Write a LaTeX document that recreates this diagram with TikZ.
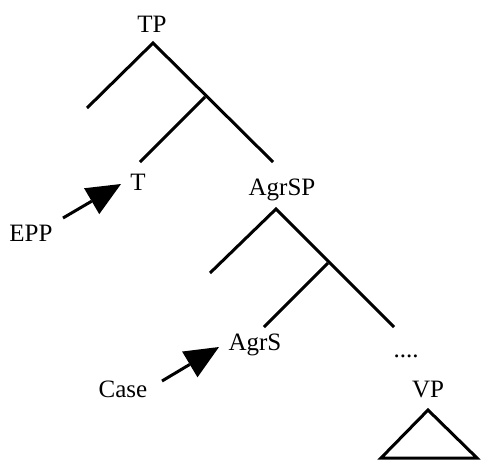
\documentclass[tikz,border=0pt]{standalone}
\usepackage{fontspec}
\setmainfont{Liberation Serif}
\usetikzlibrary{arrows.meta}
\begin{document}
\begin{tikzpicture}[x=1pt,y=-1pt,line width=3pt,
    lbl/.style={anchor=base,inner sep=0pt,font=\fontsize{25}{30}\selectfont},
    feat/.style={-{Triangle[length=34pt 0,width=30pt 0,line width=0pt]},line width=3pt}]
            \useasboundingbox (0,0) rectangle (481,461);
            % upper tree
            \node[lbl] (tp) at (152,32) {TP};
            \coordinate (tpTop) at (153,43);
            \coordinate (tpL) at (87,108);
            \coordinate (tpBar) at (205,97);
            \coordinate (tpBL) at (140,162);
            \coordinate (tpBR) at (273,162);
            \draw (tpL) -- (tpTop) -- (tpBR);
            \draw (tpBar) -- (tpBL);
            \node[lbl] (t) at (138,190) {T};
            \node[lbl] (agrsp) at (282,195) {AgrSP};
            % lower tree
            \coordinate (aTop) at (276,209);
            \coordinate (aL) at (210,273);
            \coordinate (aBar) at (328,263);
            \coordinate (aBL) at (264,327);
            \coordinate (aBR) at (394,327);
            \draw (aL) -- (aTop) -- (aBR);
            \draw (aBar) -- (aBL);
            \node[lbl] (agrs) at (255,350) {AgrS};
            \node[lbl] (dots) at (406,357) {....};
            \node[lbl] (vp) at (428,397) {VP};
            \coordinate (vpTop) at (428,410);
            \coordinate (vpL) at (381,458);
            \coordinate (vpR) at (477,458);
            \draw (vpTop) -- (vpL) -- (vpR) -- cycle;
            % features
            \node[lbl] (epp) at (31,241) {EPP};
            \node[lbl] (case) at (123,397) {Case};
            \coordinate (eppA) at (63,218);
            \coordinate (eppB) at (121,184);
            \coordinate (caseA) at (162,381);
            \coordinate (caseB) at (219,347);
            \draw[feat] (eppA) -- (eppB);
            \draw[feat] (caseA) -- (caseB);
\end{tikzpicture}
\end{document}
